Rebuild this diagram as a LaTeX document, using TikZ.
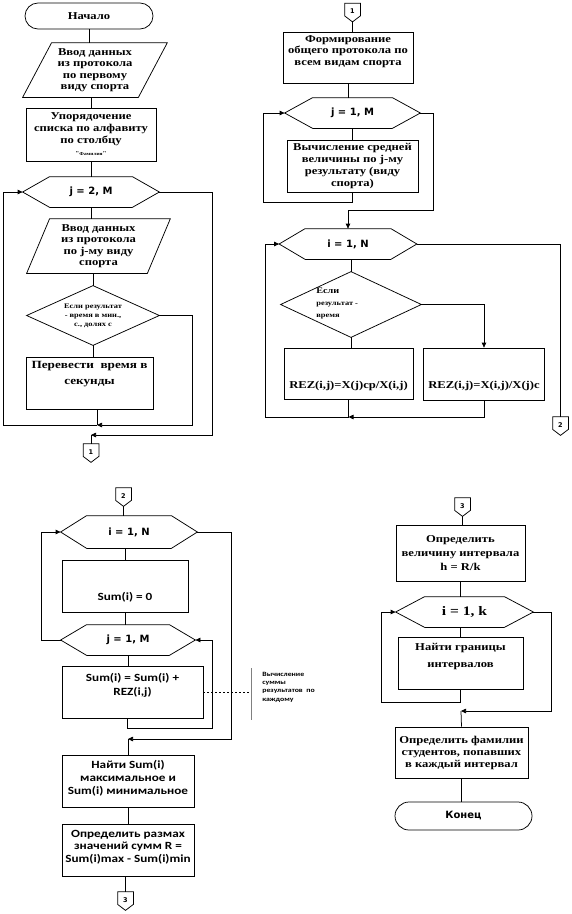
\documentclass[tikz,border=0pt]{standalone}
\usepackage{fontspec}
\setmainfont{Liberation Serif}
\newfontfamily\serB{Liberation Serif}[FakeStretch=1.2]
\newfontfamily\sanC{Carlito}[FakeStretch=1.2]
\newfontfamily\sanD{DejaVu Sans}
\usetikzlibrary{shapes.misc,arrows.meta}
\newcommand\hexpath[2]{\draw (#1.west) -- ([xshift=#2]#1.north west) -- ([xshift=-#2]#1.north east) -- (#1.east) -- ([xshift=-#2]#1.south east) -- ([xshift=#2]#1.south west) -- cycle;}
\newcommand\parpath[2]{\draw ([xshift=#2]#1.north west) -- (#1.north east) -- ([xshift=-#2]#1.south east) -- (#1.south west) -- cycle;}
\newcommand\diapath[1]{\draw (#1.north) -- (#1.east) -- (#1.south) -- (#1.west) -- cycle;}
\newcommand\conpath[1]{\draw (#1.north west) -- (#1.north east) -- ([yshift=6pt]#1.south east) -- (#1.south) -- ([yshift=6pt]#1.south west) -- cycle;}
\tikzset{
 base/.style={rectangle, inner sep=0pt, align=center},
 box/.style={base, draw},
 ghost/.style={base},
 txt/.style={base},
 term/.style={draw, rounded rectangle, inner sep=0pt, align=center},
 arr/.style={-{Triangle[length=5pt,width=4.5pt]}},
 serf/.style 2 args={font={\serB\bfseries\fontsize{#1}{#2}\selectfont}},
 sanf/.style 2 args={font={\sanC\bfseries\fontsize{#1}{#2}\selectfont}},
 hexf/.style={font={\sanD\bfseries\fontsize{10}{11}\selectfont}},
 conf/.style={font={\sanD\bfseries\fontsize{6.5}{7}\selectfont}, minimum width=15pt, minimum height=18pt},
 annf/.style={font={\sanC\bfseries\fontsize{6.5}{8.3}\selectfont}},
}
\begin{document}
\begin{tikzpicture}[x=1pt,y=-1pt,line width=0.75pt]
\useasboundingbox (0,0) rectangle (571,914);
% ---------- left column ----------
\node[term, minimum width=128pt, minimum height=26pt, serf={10.5}{12}] (start) at (89,16) {Начало};
\node[ghost, minimum width=144pt, minimum height=54pt, serf={10.5}{11.5}] (p1) at (95,70) {Ввод данных\\из протокола\\по первому\\виду спорта};
\parpath{p1}{29pt}
\node[box, minimum width=130pt, minimum height=53pt, serf={10.5}{12}] (r1) at (91,134.5) {Упорядочение\\списка по алфавиту\\по столбцу\\{\fontsize{6}{6}\selectfont"}{\fontsize{4.5}{5}\selectfont Фамилия}{\fontsize{6}{6}\selectfont"}};
\node[ghost, minimum width=136pt, minimum height=30pt, hexf] (h1) at (91,192) {j = 2, M};
\hexpath{h1}{27pt}
\node[ghost, minimum width=143pt, minimum height=54pt, serf={10.5}{11.5}] (p2) at (98.5,246) {Ввод данных\\из протокола\\по j-му виду\\спорта};
\parpath{p2}{23pt}
\node[ghost, minimum width=132pt, minimum height=59pt, serf={7}{9}] (d1) at (93,315.5) {Если результат\\- время в мин.,\\с., долях с};
\diapath{d1}
\node[box, minimum width=127pt, minimum height=52pt] (r2) at (89.5,383) {};
\node[txt, serf={11}{16}] (r2t) at (89.5,374) {Перевести\ \ время в\\секунды};
\node[ghost, conf] (c1) at (91,453) {\raisebox{2pt}{1}};
\conpath{c1}
\coordinate (m1) at (97,425);
\coordinate (m2) at (91,435);
\draw (start.south) -- (start.south |- p1.north);
\draw (r1.north |- p1.south) -- (r1.north);
\draw (r1.south) -- (r1.south |- h1.north);
\draw (h1.south) -- (h1.south |- p2.north);
\draw (d1.north |- p2.south) -- (d1.north);
\draw (d1.south) -- (d1.south |- r2.north);
\draw (m1 |- r2.south) -- (m1);
\draw[arr] (d1.east) -| (192,425) -- (m1);
\draw[arr] (m1) -- (3,425) |- (h1.west);
\draw[arr] (h1.east) -| (212,435) -- (m2);
\draw (m2) -- (c1.north);
% ---------- right column ----------
\node[ghost, conf] (c2) at (352.5,12.5) {\raisebox{2pt}{1}};
\conpath{c2}
\node[box, minimum width=130pt, minimum height=51pt] (r3) at (348,57.5) {};
\node[txt, serf={10.5}{11.5}] (r3t) at (348,51.5) {Формирование\\общего протокола по\\всем видам спорта};
\node[ghost, minimum width=135pt, minimum height=30pt, hexf] (h2) at (352.5,113) {j = 1, M};
\hexpath{h2}{28pt}
\node[box, minimum width=131pt, minimum height=52pt, serf={10.5}{12}] (r4) at (352.5,166) {Вычисление средней\\величины по j-му\\результату (виду\\спорта)};
\node[ghost, minimum width=137pt, minimum height=30pt, hexf] (h3) at (348,244) {i = 1, N};
\hexpath{h3}{26pt}
\node[ghost, minimum width=140pt, minimum height=65pt] (d2) at (351,304.5) {};
\diapath{d2}
\node[txt, serf={7}{12}, align=left, anchor=west] (d2t) at (316,303) {{\fontsize{8.5}{9}\selectfont Если}\\результат -\\время};
\node[box, minimum width=129pt, minimum height=51pt] (r5) at (348.5,373.5) {};
\node[txt, serf={10.5}{12}] (r5t) at (348.5,386) {REZ(i,j)=X(j)ср/X(i,j)};
\node[box, minimum width=121pt, minimum height=52pt] (r6) at (484,374) {};
\node[txt, serf={10.5}{12}] (r6t) at (484,386) {REZ(i,j)=X(i,j)/X(j)c};
\node[ghost, conf] (c3) at (560.5,426) {\raisebox{2pt}{2}};
\conpath{c3}
\coordinate (m3) at (348.5,417);
\draw (c2.south) -- (c2.south |- r3.north);
\draw (r3.south) -- (r3.south |- h2.north);
\draw (h2.south) -- (r4.north);
\draw[arr] (r4.south) -- ++(0,10) -| ([xshift=-21pt]h2.west) -- (h2.west);
\draw[arr] (h2.east) -| (433,210) -| (h3.north);
\draw (d2.north |- h3.south) -- (d2.north);
\draw (d2.south) -- (d2.south |- r5.north);
\draw[arr] (d2.east) -| (r6.north);
\draw (r5.south) -- (m3);
\draw[arr] (r6.south) |- (m3);
\draw[arr] (m3) -- (265,417) |- (h3.west);
\draw (h3.east) -| (c3.north);
% ---------- bottom left ----------
\node[ghost, conf] (c4) at (123.5,497) {\raisebox{2pt}{2}};
\conpath{c4}
\node[ghost, minimum width=136pt, minimum height=32pt, hexf] (h4) at (129,532) {i = 1, N};
\hexpath{h4}{26pt}
\node[box, minimum width=126pt, minimum height=52pt] (r7) at (125,586) {};
\node[txt, sanf={11}{13}] (r7t) at (125,597) {Sum(i) = 0};
\node[ghost, minimum width=134pt, minimum height=30pt, hexf] (h5) at (128,640) {j = 1, M};
\hexpath{h5}{26pt}
\node[box, minimum width=141pt, minimum height=52pt] (r8) at (132.5,692) {};
\node[txt, sanf={11}{14}] (r8t) at (132.5,685) {Sum(i) = Sum(i) +\\REZ(i,j)};
\node[box, minimum width=132pt, minimum height=52pt] (r9) at (128,781) {};
\node[txt, sanf={11}{13}] (r9t) at (128,778) {Найти Sum(i)\\максимальное и\\Sum(i) минимальное};
\node[box, minimum width=132pt, minimum height=52pt] (r10) at (128,850) {};
\node[txt, sanf={11}{12.5}] (r10t) at (128,847) {Определить размах\\значений сумм R =\\Sum(i)max - Sum(i)min};
\node[ghost, conf] (c5) at (125.5,901) {\raisebox{2pt}{3}};
\conpath{c5}
\coordinate (a1) at (251,692);
\coordinate (a2) at (251,668);
\coordinate (a3) at (251,720);
\node[txt, annf, align=left, anchor=west] (ann) at (262,687) {Вычисление\\суммы\\результатов\ \ по\\каждому};
\coordinate (m4) at (128,739);
\draw (c4.south) -- (c4.south |- h4.north);
\draw (r7.north |- h4.south) -- (r7.north);
\draw (r7.south) -- (r7.south |- h5.north);
\draw (h5.south) -- (h5.south |- r8.north);
\draw[arr] ([xshift=-5.5pt]r8.south) -- ++(0,10) -| ([xshift=17pt]h5.east) -- (h5.east);
\draw[arr] (h5.west) -- (41,640) |- (h4.west);
\draw[arr] (h4.east) -| (231,739) -- (m4);
\draw (m4) -- (r9.north);
\draw (r9.south) -- (r10.north);
\draw (c5.north |- r10.south) -- (c5.north);
\draw[dash pattern=on 2pt off 2pt] (r8.east) -- (a1);
\draw[gray, line width=0.5pt] (a2) -- (a3);
% ---------- bottom right ----------
\node[ghost, conf] (c6) at (462.5,507) {\raisebox{2pt}{3}};
\conpath{c6}
\node[box, minimum width=129pt, minimum height=56pt, serf={10.5}{14}] (r11) at (460.5,553) {Определить\\величину интервала\\h = R/k};
\node[ghost, minimum width=137pt, minimum height=30pt, serf={13}{14}] (h6) at (464.5,612) {i = 1, k};
\hexpath{h6}{29pt}
\node[box, minimum width=125pt, minimum height=52pt] (r12) at (460.5,663) {};
\node[txt, serf={10.5}{17}] (r12t) at (460.5,656) {Найти границы\\интервалов};
\node[box, minimum width=133pt, minimum height=51pt, serf={10.5}{12}] (r13) at (461.5,752.5) {Определить фамилии\\студентов, попавших\\в каждый интервал};
\node[term, minimum width=137pt, minimum height=28pt, hexf] (t2) at (463.5,816) {Конец};
\coordinate (m5) at (461,711);
\draw (c6.south) -- (c6.south |- r11.north);
\draw (r11.south) -- (r11.south |- h6.north);
\draw (r12.north |- h6.south) -- (r12.north);
\draw[arr] (r12.south) -- ++(0,13) -| ([xshift=-14pt]h6.west) -- (h6.west);
\draw[arr] (h6.east) -| (551,711) -- (m5);
\draw (m5) -- (r13.north);
\draw (r13.south) -- (r13.south |- t2.north);
\end{tikzpicture}
\end{document}
